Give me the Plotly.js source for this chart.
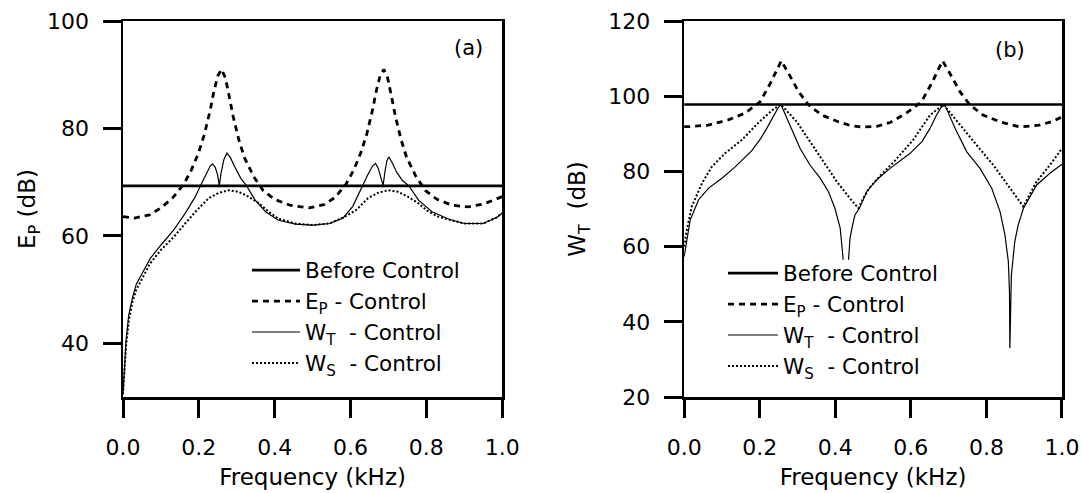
<!DOCTYPE html>
<html>
<head>
<meta charset="utf-8">
<script src="https://cdn.plot.ly/plotly-3.0.1.min.js"></script>
<style>html,body{margin:0;padding:0;background:#fff;}#chart{width:1086px;height:493px;}</style>
</head>
<body>
<div id="chart"></div>
<script>
// ---------- Panel (a): E_P (dB) ----------
const beforeA_f = [0, 1];
const beforeA_v = [69.3, 69.3];

const epA_f = [0, 0.03, 0.07, 0.10, 0.13, 0.16, 0.18, 0.20, 0.215, 0.23, 0.24, 0.25, 0.26, 0.27, 0.28, 0.29, 0.305, 0.32, 0.345, 0.37, 0.40, 0.44, 0.49, 0.53, 0.56, 0.588, 0.608, 0.628, 0.643, 0.658, 0.668, 0.678, 0.688, 0.698, 0.708, 0.718, 0.733, 0.748, 0.773, 0.798, 0.828, 0.868, 0.91, 0.95, 1.0];
const epA_v = [63.6, 63.3, 63.9, 65.2, 67.0, 69.6, 72.2, 75.6, 79.0, 83.4, 87.0, 89.8, 91.0, 89.4, 86.0, 82.4, 78.0, 74.6, 71.0, 68.4, 66.8, 65.7, 65.2, 65.8, 67.2, 69.6, 72.2, 75.6, 79.0, 83.4, 87.0, 89.8, 91.0, 89.4, 86.0, 82.4, 78.0, 74.6, 71.0, 68.4, 66.8, 65.7, 65.4, 65.9, 67.3];

const wtA_f = [0, 0.003, 0.008, 0.015, 0.025, 0.035, 0.05, 0.072, 0.10, 0.134, 0.164, 0.19, 0.204, 0.218, 0.23, 0.236, 0.243, 0.249, 0.254, 0.259, 0.266, 0.274, 0.283, 0.295, 0.31, 0.326, 0.348, 0.376, 0.41, 0.455, 0.50, 0.545, 0.58, 0.606, 0.631, 0.645, 0.658, 0.666, 0.673, 0.68, 0.686, 0.691, 0.696, 0.701, 0.71, 0.722, 0.737, 0.754, 0.78, 0.815, 0.86, 0.90, 0.95, 0.985, 1.0];
const wtA_v = [30.5, 35.0, 40.5, 45.2, 48.5, 51.0, 53.0, 55.8, 58.3, 61.1, 64.2, 67.2, 69.3, 71.4, 73.0, 73.4, 72.8, 71.5, 69.4, 71.8, 74.2, 75.4, 74.6, 72.8, 70.8, 69.3, 66.7, 64.5, 62.9, 62.2, 62.0, 62.3, 63.3, 65.5, 69.3, 71.3, 73.0, 73.5, 72.6, 71.0, 69.4, 72.0, 74.0, 74.7, 73.6, 71.8, 70.3, 69.3, 66.6, 64.5, 63.1, 62.3, 62.3, 63.4, 64.2];

const wsA_f = [0, 0.003, 0.008, 0.015, 0.025, 0.035, 0.05, 0.072, 0.10, 0.134, 0.164, 0.195, 0.226, 0.252, 0.279, 0.305, 0.331, 0.358, 0.384, 0.41, 0.455, 0.50, 0.545, 0.58, 0.615, 0.646, 0.672, 0.699, 0.725, 0.751, 0.778, 0.804, 0.83, 0.86, 0.90, 0.95, 0.985, 1.0];
const wsA_v = [30.5, 34.5, 39.5, 44.0, 47.8, 50.0, 52.0, 54.9, 57.4, 59.8, 62.3, 64.8, 67.0, 68.0, 68.5, 68.2, 67.3, 66.1, 64.5, 63.2, 62.3, 62.0, 62.3, 63.4, 64.8, 67.0, 68.0, 68.5, 68.2, 67.3, 66.1, 64.6, 63.6, 63.0, 62.3, 62.3, 63.4, 64.2];

// ---------- Panel (b): W_T (dB) ----------
const beforeB_f = [0, 1];
const beforeB_v = [97.8, 97.8];

const epB_f = [0, 0.011, 0.064, 0.117, 0.161, 0.201, 0.228, 0.245, 0.257, 0.276, 0.303, 0.329, 0.364, 0.408, 0.44, 0.47, 0.51, 0.545, 0.588, 0.628, 0.655, 0.672, 0.684, 0.703, 0.730, 0.756, 0.791, 0.835, 0.889, 0.94, 0.975, 1.0];
const epB_v = [91.9, 91.9, 92.3, 93.7, 95.5, 98.5, 103.4, 107.0, 109.4, 106.1, 101.2, 97.7, 95.0, 93.2, 92.2, 91.8, 92.0, 93.0, 95.5, 98.5, 103.4, 107.0, 109.4, 106.1, 101.2, 97.7, 95.0, 93.2, 91.8, 92.3, 93.3, 94.5];

// null marks the break at the bottom of the first notch
const wtB_f = [0, 0.003, 0.016, 0.038, 0.064, 0.10, 0.135, 0.179, 0.201, 0.219, 0.236, 0.248, 0.256, 0.268, 0.280, 0.307, 0.333, 0.360, 0.382, 0.399, 0.413, 0.418, 0.421, 0.428, 0.435, 0.439, 0.444, 0.452, 0.464, 0.483, 0.51, 0.545, 0.598, 0.630, 0.651, 0.668, 0.680, 0.690, 0.717, 0.748, 0.783, 0.814, 0.836, 0.849, 0.858, 0.861, 0.862, 0.8635, 0.866, 0.875, 0.884, 0.898, 0.933, 0.968, 1.0];
const wtB_v = [57.3, 59.1, 67.1, 72.4, 75.5, 78.2, 81.2, 85.5, 88.5, 91.5, 94.5, 96.8, 97.8, 95.0, 92.3, 86.1, 81.7, 78.2, 74.6, 70.2, 64.9, 60.5, 56.5, null, 56.5, 62.2, 64.9, 68.4, 70.2, 74.6, 77.8, 80.8, 84.8, 88.0, 91.5, 95.0, 97.0, 97.7, 91.5, 85.2, 80.8, 75.5, 69.3, 63.1, 56.0, 48.0, 33.0, 45.0, 52.4, 61.3, 65.7, 70.2, 76.4, 79.5, 81.9];

const wsB_f = [0, 0.007, 0.020, 0.047, 0.073, 0.108, 0.153, 0.197, 0.232, 0.256, 0.298, 0.333, 0.369, 0.404, 0.439, 0.461, 0.475, 0.49, 0.52, 0.554, 0.607, 0.651, 0.686, 0.730, 0.774, 0.818, 0.862, 0.898, 0.915, 0.933, 0.968, 1.0];
const wsB_v = [60.0, 64.4, 70.6, 76.8, 81.2, 84.8, 88.4, 93.0, 96.2, 97.8, 93.2, 87.9, 82.6, 77.3, 72.8, 70.2, 73.0, 75.6, 79.0, 82.4, 88.5, 95.0, 97.8, 92.3, 87.0, 81.7, 75.5, 70.6, 74.0, 77.3, 81.7, 86.1];

const seriesNames = ['Before Control', 'E<sub>P</sub> - Control', 'W<sub>T</sub>  - Control', 'W<sub>S</sub>  - Control'];

// ---------- styles ----------
const styles = [
  {color: '#000', width: 2.6, dash: 'solid'},
  {color: '#000', width: 2.8, dash: '6px,5px'},
  {color: '#000', width: 1.2, dash: 'solid'},
  {color: '#000', width: 2.0, dash: '2px,2px'}
];

function mk(x, y, i, xa, ya, leg) {
  return {x: x, y: y, type: 'scatter', mode: 'lines', name: seriesNames[i], connectgaps: false,
    line: Object.assign({}, styles[i]), xaxis: xa, yaxis: ya, legend: leg, hoverinfo: 'skip'};
}

const traces = [
  mk(beforeA_f, beforeA_v, 0, 'x', 'y', 'legend'),
  mk(epA_f, epA_v, 1, 'x', 'y', 'legend'),
  mk(wtA_f, wtA_v, 2, 'x', 'y', 'legend'),
  mk(wsA_f, wsA_v, 3, 'x', 'y', 'legend'),
  mk(beforeB_f, beforeB_v, 0, 'x2', 'y2', 'legend2'),
  mk(epB_f, epB_v, 1, 'x2', 'y2', 'legend2'),
  mk(wtB_f, wtB_v, 2, 'x2', 'y2', 'legend2'),
  mk(wsB_f, wsB_v, 3, 'x2', 'y2', 'legend2')
];

const FONT = 'DejaVu Sans, Arial, sans-serif';
function xAx(dom, anchor) {
  return {domain: dom, anchor: anchor, range: [0, 1], dtick: 0.2, tick0: 0, tickformat: '.1f',
    showline: true, linewidth: 2.5, linecolor: '#000', mirror: true,
    ticks: 'outside', ticklen: 18, tickwidth: 3, tickcolor: '#000',
    showgrid: false, zeroline: false, ticklabelstandoff: 11,
    tickfont: {family: FONT, size: 22, color: '#000'},
    title: {text: 'Frequency (kHz)', standoff: 10, font: {family: FONT, size: 23, color: '#000'}}};
}
function yAx(range, ticks, anchor, title, standoff) {
  return {domain: [0, 1], anchor: anchor, range: range, tickvals: ticks,
    showline: true, linewidth: 2.5, linecolor: '#000', mirror: true,
    ticks: 'outside', ticklen: 18, tickwidth: 3, tickcolor: '#000',
    showgrid: false, zeroline: false, ticklabelstandoff: 9,
    tickfont: {family: FONT, size: 22, color: '#000'},
    title: {text: title, standoff: standoff, font: {family: FONT, size: 23, color: '#000'}}};
}

const layout = {
  width: 1086, height: 493,
  margin: {l: 123, r: 24, t: 21, b: 96, autoexpand: false},
  paper_bgcolor: '#fff', plot_bgcolor: '#fff',
  font: {family: FONT, color: '#000'},
  showlegend: true,
  xaxis: xAx([0, 0.4038], 'y'),
  xaxis2: xAx([0.5976, 1], 'y2'),
  yaxis: yAx([30, 100], [40, 60, 80, 100], 'x', 'E<sub>P</sub> (dB)', 5),
  yaxis2: yAx([20, 120], [20, 40, 60, 80, 100, 120], 'x2', 'W<sub>T</sub>  (dB)', 16),
  legend: {x: 0.132, y: 0.392, xanchor: 'left', yanchor: 'top', bgcolor: 'rgba(0,0,0,0)',
    font: {family: FONT, size: 21.5, color: '#000'}, itemwidth: 48, tracegroupgap: 0},
  legend2: {x: 0.639, y: 0.384, xanchor: 'left', yanchor: 'top', bgcolor: 'rgba(0,0,0,0)',
    font: {family: FONT, size: 21.5, color: '#000'}, itemwidth: 50, tracegroupgap: 0},
  annotations: [
    {text: '(a)', xref: 'paper', yref: 'paper', x: 0.3676, y: 0.928, yanchor: 'middle', showarrow: false,
      font: {family: FONT, size: 21, color: '#000'}},
    {text: '(b)', xref: 'paper', yref: 'paper', x: 0.9624, y: 0.923, yanchor: 'middle', showarrow: false,
      font: {family: FONT, size: 21, color: '#000'}}
  ]
};

Plotly.newPlot('chart', traces, layout, {staticPlot: true, displayModeBar: false});
</script>
</body>
</html>
